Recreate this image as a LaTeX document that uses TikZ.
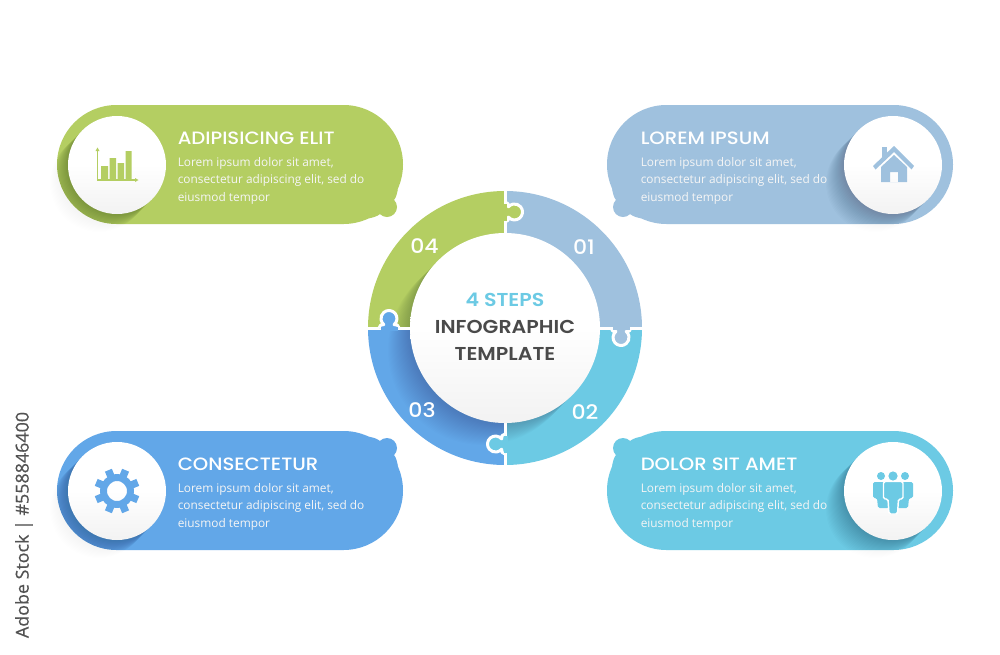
\documentclass[tikz,border=0pt]{standalone}
\usepackage{fontspec}
\setmainfont{Open Sans}
\newfontfamily\headf[FakeStretch=1.1]{Poppins Medium}
\newfontfamily\centf[FakeStretch=1.1]{Poppins SemiBold}
\newfontfamily\capf[FakeBold=0.5]{Open Sans}
\definecolor{cgreen}{HTML}{B4CE62}
\definecolor{cgrey}{HTML}{9FC1DE}
\definecolor{cblue}{HTML}{62A7E8}
\definecolor{cteal}{HTML}{6CCAE4}
\definecolor{cdark}{HTML}{4A4A4A}
\tikzset{
  headtext/.style={anchor=base west,text=white,inner sep=0pt,font=\headf\fontsize{13.4}{15}\selectfont},
  bodytext/.style={anchor=base west,text=white!92!gray,inner sep=0pt,font=\fontsize{8.9}{11}\selectfont},
  numtext/.style={text=white,inner sep=0pt,font=\headf\fontsize{15}{18}\selectfont},
  centertext/.style={anchor=base,inner sep=0pt,font=\centf\fontsize{14}{17}\selectfont},
  disc/.style={top color=white,bottom color=black!5,middle color=white,draw=none},
}
% pill: x1, x2, y-top
\newcommand{\pillpath}[3]{(#1+59.5,#3) -- (#2-59.5,#3) arc[start angle=-90,end angle=90,radius=59.5] -- (#1+59.5,#3+119) arc[start angle=90,end angle=270,radius=59.5] -- cycle}
% shadow stack: cx, cy, r, n, opacity
\newcommand{\shadowstack}[5]{\foreach \k in {1,...,#4}{\fill[black,opacity=#5] (#1-\k,#2+\k) circle[radius=#3];}}
% puzzle knob: x, y, rotation, colour
\newcommand{\knob}[4]{\begin{scope}[shift={(#1,#2)},rotate=#3]
  \filldraw[fill=#4,draw=white,line width=2.25pt,line join=round] (0,10) .. controls (3,10) and (3.4,7.5) .. (3.4,5.1) arc[start angle=140,end angle=-140,radius=8] .. controls (3.4,-7.5) and (3,-10) .. (0,-10);
  \fill[#4] (-2.5,-8.5) rectangle (1.5,8.5);
\end{scope}}
% bar: x1,x2,ytop,colour,knobx,knoby,discx,xscale,yscale
\newcommand{\infobar}[9]{%
  \fill[#4] \pillpath{#1}{#2}{#3};
  \fill[#4] (#5,#6) circle[radius=10];
  \begin{scope}[shift={(#5,#6)},xscale=#8,yscale=#9]
    \fill[#4] (-18.4,11.4) .. controls (-14,10.5) and (-10,9.5) .. (-7,7) -- (7,-7) .. controls (9.5,-10) and (10,-14) .. (11,-18) -- cycle;
  \end{scope}
  \shadowstack{#7}{#3+60}{49}{18}{0.0025}
  \begin{scope}\clip \pillpath{#1}{#2}{#3};
    \shadowstack{#7}{#3+60}{49}{18}{0.007}
  \end{scope}
  \shade[disc] (#7,#3+60) circle[radius=49];
}
\begin{document}
\begin{tikzpicture}[x=0.75pt,y=-0.75pt]
\useasboundingbox (0,0) rectangle (1000,654);
\fill[white] (0,0) rectangle (1000,654);

% bars
\infobar{57}{403}{105}{cgreen}{387}{207}{117}{1}{1}
\infobar{607}{953}{105}{cgrey}{623}{207}{893}{-1}{1}
\infobar{57}{403}{431}{cblue}{387}{448}{117}{1}{-1}
\infobar{607}{953}{431}{cteal}{623}{448}{893}{-1}{-1}

% ring
\fill[cgrey] (505,191) arc[start angle=-90,end angle=0,radius=137] -- (505,328) -- cycle;
\fill[cteal] (642,328) arc[start angle=0,end angle=90,radius=137] -- (505,328) -- cycle;
\fill[cblue] (505,465) arc[start angle=90,end angle=180,radius=137] -- (505,328) -- cycle;
\fill[cgreen] (368,328) arc[start angle=180,end angle=270,radius=137] -- (505,328) -- cycle;
\begin{scope}
  \clip (505,328) circle[radius=137];
  \shadowstack{505}{328}{95}{22}{0.006}
\end{scope}
\draw[white,line width=2.25pt] (505,188) -- (505,468) (365,328) -- (645,328);
\knob{505}{212}{0}{cgreen}
\knob{621}{328}{-90}{cgrey}
\knob{505}{444}{180}{cteal}
\knob{389}{328}{90}{cblue}
\shade[disc] (505,328) circle[radius=95];

% centre text
\node[centertext,text=cteal] (steps) at (505,306) {4 STEPS};
\node[centertext,text=cdark] (info) at (505,333) {INFOGRAPHIC};
\node[centertext,text=cdark] (tmpl) at (505,360) {TEMPLATE};
\node[numtext] (n1) at (584,247) {01};
\node[numtext] (n2) at (585,412) {02};
\node[numtext] (n3) at (422,410) {03};
\node[numtext] (n4) at (424.5,246) {04};

% bar text
\node[headtext] (h1) at (177.5,144) {ADIPISICING ELIT};
\node[bodytext] (a1) at (177.5,166) {Lorem ipsum dolor sit amet,};
\node[bodytext] (a2) at (177.5,183.5) {consectetur adipiscing elit, sed do};
\node[bodytext] (a3) at (177.5,201) {eiusmod tempor};
\node[headtext] (h2) at (640.5,144) {LOREM IPSUM};
\node[bodytext] (b1) at (640.5,166) {Lorem ipsum dolor sit amet,};
\node[bodytext] (b2) at (640.5,183.5) {consectetur adipiscing elit, sed do};
\node[bodytext] (b3) at (640.5,201) {eiusmod tempor};
\node[headtext] (h3) at (177.5,470) {CONSECTETUR};
\node[bodytext] (c1) at (177.5,492) {Lorem ipsum dolor sit amet,};
\node[bodytext] (c2) at (177.5,509.5) {consectetur adipiscing elit, sed do};
\node[bodytext] (c3) at (177.5,527) {eiusmod tempor};
\node[headtext] (h4) at (640.5,470) {DOLOR SIT AMET};
\node[bodytext] (d1) at (640.5,492) {Lorem ipsum dolor sit amet,};
\node[bodytext] (d2) at (640.5,509.5) {consectetur adipiscing elit, sed do};
\node[bodytext] (d3) at (640.5,527) {eiusmod tempor};

% chart icon
\fill[cgreen] (101,166) rectangle (108,179) (109.5,158) rectangle (116,179) (117.5,163) rectangle (124,179) (125.5,151) rectangle (131.5,179);
\draw[cgreen,line width=1pt] (97.5,150) -- (97.5,180) -- (136,180);
\fill[cgreen] (97.5,147.5) -- (99.5,151) -- (95.5,151) -- cycle (138.5,180) -- (135,178) -- (135,182) -- cycle;

% house icon
\fill[cgrey] (882,147) rectangle (887,157);
\fill[cgrey] (873,166) -- (894,146) -- (914,166) -- (911.5,169.5) -- (894,152) -- (875.5,169.5) -- cycle;
\fill[cgrey,even odd rule] (881,167) -- (894,155) -- (907,167) -- (907,182) -- (881,182) -- cycle (890,172) rectangle (898,182);

% gear icon
\foreach \a in {0,45,...,315}{
  \draw[cblue,line width=5.6pt,rotate around={\a+22.5:(117,491)}] (117,491-14) -- (117,491-22.5);
}
\draw[cblue,line width=5.2pt] (117,491) circle[radius=13.5];

% people icon
\fill[cteal] (881,476) circle[radius=4] (905,476) circle[radius=4];
\fill[cteal,rounded corners=1.2pt] (873,482) -- (889,482) -- (889,508) -- (878,508) -- (877,498) -- (873,498) -- cycle;
\fill[cteal,rounded corners=1.2pt] (897,482) -- (913,482) -- (913,498) -- (909,498) -- (908,508) -- (897,508) -- cycle;
\fill[cteal] (893,476) circle[radius=4.6];
\filldraw[fill=cteal,draw=white,line width=1.1pt,rounded corners=1.2pt] (883.5,481.5) -- (903,481.5) -- (903,499) -- (898.5,499) -- (897.5,514) -- (889,514) -- (888,499) -- (883.5,499) -- cycle;

% side caption
\node[rotate=90,text=black!68,inner sep=0pt,font=\capf\fontsize{13.4}{15}\selectfont] (cap) at (24,525) {Adobe Stock | \#558846400};
\end{tikzpicture}
\end{document}
